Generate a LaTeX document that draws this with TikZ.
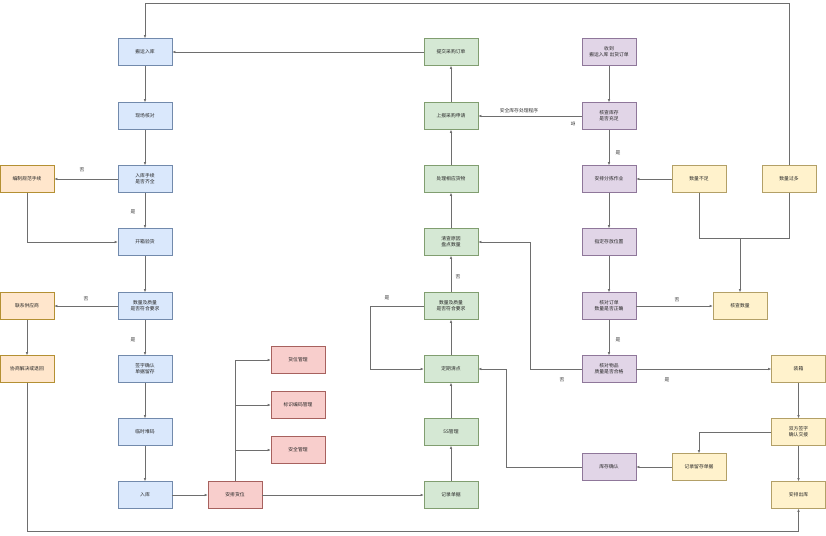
\documentclass[tikz,border=0pt]{standalone}
\usepackage{fontspec}
\setmainfont{Noto Sans CJK SC}
\usetikzlibrary{arrows.meta}
\definecolor{bfill}{HTML}{DAE8FC}\definecolor{bdraw}{HTML}{6C8EBF}
\definecolor{ofill}{HTML}{FFE6CC}\definecolor{odraw}{HTML}{D79B00}
\definecolor{rfill}{HTML}{F8CECC}\definecolor{rdraw}{HTML}{B85450}
\definecolor{gfill}{HTML}{D5E8D4}\definecolor{gdraw}{HTML}{82B366}
\definecolor{pfill}{HTML}{E1D5E7}\definecolor{pdraw}{HTML}{9673A6}
\definecolor{yfill}{HTML}{FFF2CC}\definecolor{ydraw}{HTML}{D6B656}
\definecolor{edge}{HTML}{6E6E6E}
\tikzset{
  box/.style={rectangle, minimum width=54pt, minimum height=27pt, inner sep=1pt,
    align=center, font=\fontsize{4.8}{5.8}\selectfont, text=black!85, line width=0.6pt},
  bbox/.style={box, fill=bfill, draw=bdraw!70!gray},
  obox/.style={box, fill=ofill, draw=odraw!60!gray},
  rbox/.style={box, fill=rfill, draw=rdraw!70!gray},
  gbox/.style={box, fill=gfill, draw=gdraw!60!gray},
  pbox/.style={box, fill=pfill, draw=pdraw!70!gray},
  ybox/.style={box, fill=yfill, draw=ydraw!60!gray},
  con/.style={draw=edge, line width=0.6pt, -{Latex[length=3pt,width=2.6pt]}},
  plain/.style={draw=edge, line width=0.6pt},
  lab/.style={font=\fontsize{4.8}{5.8}\selectfont, text=black!80, inner sep=0.5pt}
}
\begin{document}
\begin{tikzpicture}[x=1pt,y=-1pt]
\useasboundingbox (0,0) rectangle (826,535);
% blue column
\node[bbox] (b1) at (145,52) {搬运入库};
\node[bbox] (b2) at (145,116) {现场核对};
\node[bbox] (b3) at (145,179) {入库手续\\是否齐全};
\node[bbox] (b4) at (145,242) {开箱验货};
\node[bbox] (b5) at (145,306) {数量及质量\\是否符合要求};
\node[bbox] (b6) at (145,369) {签字确认\\单据留存};
\node[bbox] (b7) at (145,432) {临时堆码};
\node[bbox] (b8) at (145,495) {入库};
% orange
\node[obox] (o1) at (27,179) {编制规范手续};
\node[obox] (o2) at (27,306) {联系供应商};
\node[obox] (o3) at (27,369) {协商解决或退回};
% red
\node[rbox] (r0) at (235,495) {安排货位};
\node[rbox] (r1) at (298,360) {货位管理};
\node[rbox] (r2) at (298,405) {标识编码管理};
\node[rbox] (r3) at (298,450) {安全管理};
% green
\node[gbox] (g1) at (451,52) {提交采购订单};
\node[gbox] (g2) at (451,116) {上报采购申请};
\node[gbox] (g3) at (451,179) {处理相应货物};
\node[gbox] (g4) at (451,242) {清查原因\\盘点数量};
\node[gbox] (g5) at (451,306) {数量及质量\\是否符合要求};
\node[gbox] (g6) at (451,369) {定期清点};
\node[gbox] (g7) at (451,432) {5S管理};
\node[gbox] (g8) at (451,495) {记录单据};
% purple
\node[pbox] (p1) at (609,52) {收到\\搬运入库 出货订单};
\node[pbox] (p2) at (609,116) {核查库存\\是否充足};
\node[pbox] (p3) at (609,179) {安排分拣作业};
\node[pbox] (p4) at (609,242) {指定存放位置};
\node[pbox] (p5) at (609,306) {核对订单\\数量是否正确};
\node[pbox] (p6) at (609,369) {核对物品\\质量是否合格};
\node[pbox] (p7) at (609,467) {库存确认};
% yellow
\node[ybox] (y1) at (699,179) {数量不足};
\node[ybox] (y2) at (789,179) {数量过多};
\node[ybox] (y3) at (740,306) {核查数量};
\node[ybox] (y4) at (798.5,369) {装箱};
\node[ybox] (y5) at (798.5,432) {双方签字\\确认交接};
\node[ybox] (y6) at (699,467) {记录留存单据};
\node[ybox] (y7) at (798.5,495) {安排出库};
\coordinate (jn) at (740,238);
\coordinate (topL) at (789,3);
\coordinate (botL) at (27,531);
\coordinate (g5k) at (370,306);
\coordinate (p6k) at (530,369);
\coordinate (p7k) at (506,467);
% blue edges
\draw[con] (b1) -- (b2);
\draw[con] (b2) -- (b3);
\draw[con] (b3) -- (b4);
\draw[con] (b3) -- (o1);
\draw[con] (o1.south) |- (b4.west);
\draw[con] (b4) -- (b5);
\draw[con] (b5) -- (o2);
\draw[con] (b5) -- (b6);
\draw[con] (o2) -- (o3);
\draw[con] (b6) -- (b7);
\draw[con] (b7) -- (b8);
\draw[con] (b8) -- (r0);
\draw[con] (r0) -- (g8);
\draw[con] (r0.north) |- (r1.west);
\draw[con] (r0.north) |- (r2.west);
\draw[con] (r0.north) |- (r3.west);
% green edges
\draw[con] (g8) -- (g7);
\draw[con] (g7) -- (g6);
\draw[con] (g6) -- (g5);
\draw[con] (g5) -- (g4);
\draw[con] (g4) -- (g3);
\draw[con] (g3) -- (g2);
\draw[con] (g2) -- (g1);
\draw[con] (g1) -- (b1);
\draw[con] (g5.west) -- (g5k) |- (g6.west);
% purple edges
\draw[con] (p1) -- (p2);
\draw[con] (p2) -- (g2);
\draw[con] (p2) -- (p3);
\draw[con] (y1) -- (p3);
\draw[con] (p3) -- (p4);
\draw[con] (p4) -- (p5);
\draw[con] (p5) -- (y3);
\draw[con] (p5) -- (p6);
\draw[plain] (y1.south) |- (jn);
\draw[plain] (y2.south) |- (jn);
\draw[con] (jn) -- (y3);
\draw[con] (y2.north) -- (topL) -| (b1.north);
\draw[con] (p6) -- (y4);
\draw[con] (p6.west) -- (p6k) |- (g4.east);
\draw[con] (y4) -- (y5);
\draw[con] (y5) -- (y7);
\draw[con] (y5.west) -| (y6.north);
\draw[con] (y6) -- (p7);
\draw[con] (p7.west) -- (p7k) |- (g6.east);
\draw[con] (o3.south) -- (botL) -| (y7.south);
% labels
\node[lab] (l1) at (82,170) {否};
\node[lab] (l2) at (133,212) {是};
\node[lab] (l3) at (86,299) {否};
\node[lab] (l4) at (133,340) {是};
\node[lab] (l5) at (458,277) {否};
\node[lab] (l6) at (387,298) {是};
\node[lab] (l7) at (519,111) {安全库存处理程序};
\node[lab, rotate=-90] (l8) at (573,124) {否};
\node[lab] (l9) at (618,153) {是};
\node[lab] (l10) at (677,300) {否};
\node[lab] (l11) at (618,340) {是};
\node[lab] (l12) at (562,380) {否};
\node[lab] (l13) at (667,380) {是};
\end{tikzpicture}
\end{document}
